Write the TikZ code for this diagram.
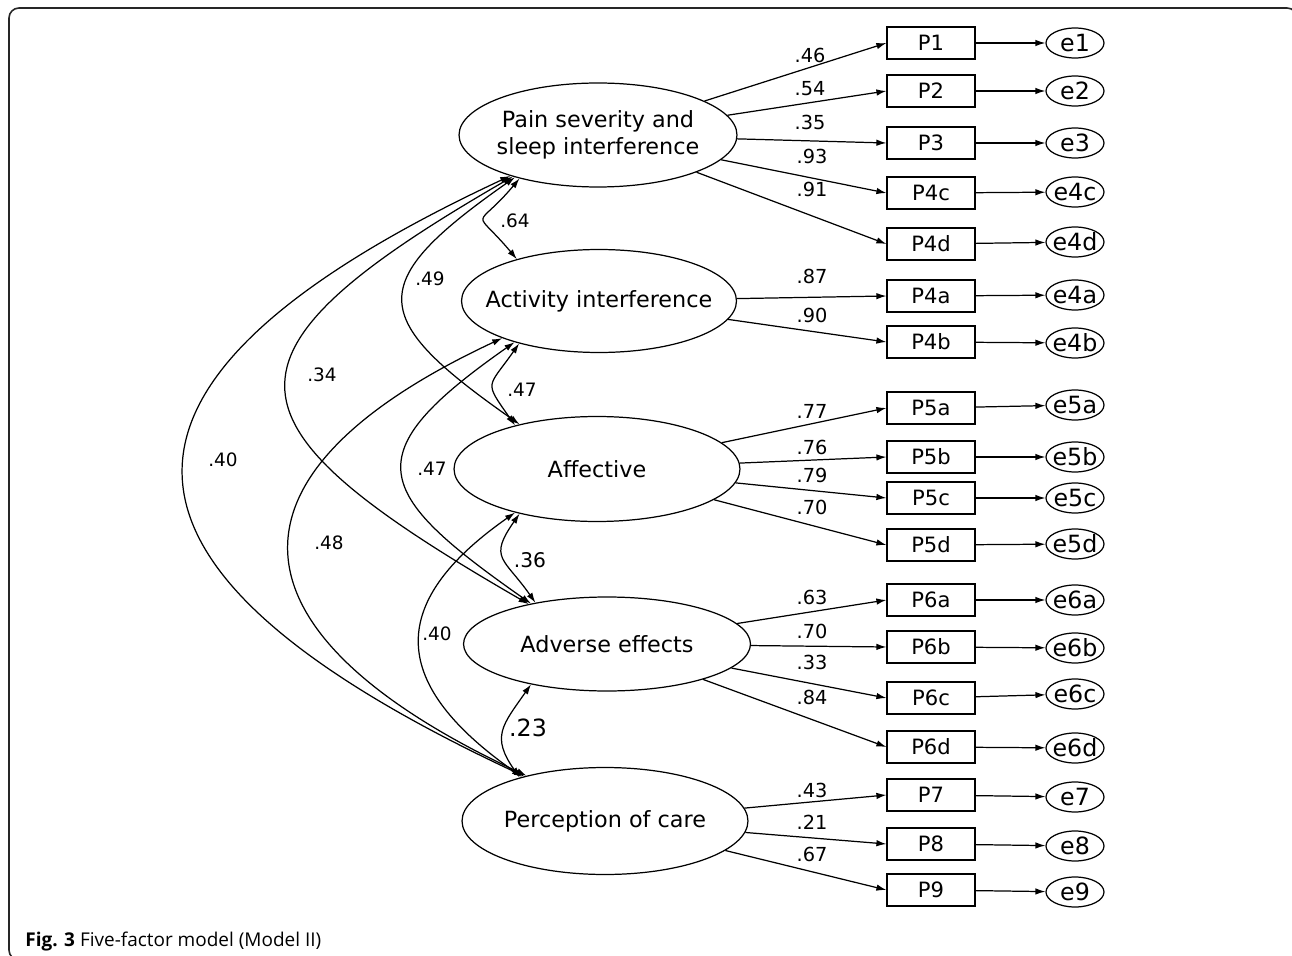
\documentclass[tikz,border=0pt]{standalone}
\usepackage{fontspec}
\setmainfont{DejaVu Sans}
\newfontfamily\capfont{Open Sans}
\usetikzlibrary{shapes,arrows.meta}

\tikzset{
	latent/.style={ellipse, draw, line width=0.7pt, inner sep=0pt, label={[font=\fontsize{12.7}{15.3}\selectfont, align=center]center:#1}},
	item/.style={rectangle, draw, line width=0.7pt, minimum width=1.76cm, minimum height=0.64cm, inner sep=0pt, font=\fontsize{12}{14}\selectfont},
	err/.style={ellipse, draw, line width=0.7pt, minimum width=1.16cm, minimum height=0.6cm, inner sep=0pt, label={[font=\fontsize{13.5}{16}\selectfont]center:#1}},
	load/.style={-{Latex[length=2mm,width=1.3mm]}, line width=0.7pt},
	cov/.style={{Latex[length=2mm,width=1.3mm]}-{Latex[length=2mm,width=1.3mm]}, line width=0.7pt},
	wt/.style={font=\fontsize{11}{13}\selectfont, inner sep=0pt},
	cr/.style={font=\fontsize{10.5}{12}\selectfont, inner sep=0pt},
	frame/.style={draw=black!85, line width=0.9pt, rounded corners=0.2cm}
}

\begin{document}
\begin{tikzpicture}[x=0.02cm, y=-0.02cm]
		\useasboundingbox (0,0) rectangle (1292,956);
		\draw[frame] (9,8) rectangle (1297,960);

		\node[latent={Pain severity and\\sleep interference}, minimum width=5.56cm, minimum height=2.08cm] (pain) at (598,135) {};
		\node[latent={Activity interference}, minimum width=5.5cm, minimum height=2.06cm] (act) at (599,301) {};
		\node[latent=Affective, minimum width=5.72cm, minimum height=2.1cm] (aff) at (597,469) {};
		\node[latent={Adverse effects}, minimum width=5.74cm, minimum height=1.88cm] (adv) at (607,644) {};
		\node[latent={Perception of care}, minimum width=5.72cm, minimum height=2.14cm] (perc) at (605,821) {};

		\node[item] (P1) at (931,43) {P1};
		\node[item] (P2) at (931,91) {P2};
		\node[item] (P3) at (931,143) {P3};
		\node[item] (P4c) at (931,193) {P4c};
		\node[item] (P4d) at (931,244) {P4d};
		\node[item] (P4a) at (931,296) {P4a};
		\node[item] (P4b) at (931,342) {P4b};
		\node[item] (P5a) at (931,408) {P5a};
		\node[item] (P5b) at (931,457) {P5b};
		\node[item] (P5c) at (931,498) {P5c};
		\node[item] (P5d) at (931,545) {P5d};
		\node[item] (P6a) at (931,600) {P6a};
		\node[item] (P6b) at (931,647) {P6b};
		\node[item] (P6c) at (931,698) {P6c};
		\node[item] (P6d) at (931,747) {P6d};
		\node[item] (P7) at (931,795) {P7};
		\node[item] (P8) at (931,844) {P8};
		\node[item] (P9) at (931,890) {P9};

		\node[err=e1] (e1) at (1075,43) {};
		\node[err=e2] (e2) at (1075,91) {};
		\node[err=e3] (e3) at (1075,143) {};
		\node[err=e4c] (e4c) at (1075,192) {};
		\node[err=e4d] (e4d) at (1075,242) {};
		\node[err=e4a] (e4a) at (1075,295) {};
		\node[err=e4b] (e4b) at (1075,343) {};
		\node[err=e5a] (e5a) at (1075,405) {};
		\node[err=e5b] (e5b) at (1075,457) {};
		\node[err=e5c] (e5c) at (1075,498) {};
		\node[err=e5d] (e5d) at (1075,544) {};
		\node[err=e6a] (e6a) at (1075,600) {};
		\node[err=e6b] (e6b) at (1075,648) {};
		\node[err=e6c] (e6c) at (1075,694) {};
		\node[err=e6d] (e6d) at (1075,748) {};
		\node[err=e7] (e7) at (1075,797) {};
		\node[err=e8] (e8) at (1075,846) {};
		\node[err=e9] (e9) at (1075,892) {};

		\draw[load] (P1) -- (e1);
		\draw[load] (P2) -- (e2);
		\draw[load] (P3) -- (e3);
		\draw[load] (P4c) -- (e4c);
		\draw[load] (P4d) -- (e4d);
		\draw[load] (P4a) -- (e4a);
		\draw[load] (P4b) -- (e4b);
		\draw[load] (P5a) -- (e5a);
		\draw[load] (P5b) -- (e5b);
		\draw[load] (P5c) -- (e5c);
		\draw[load] (P5d) -- (e5d);
		\draw[load] (P6a) -- (e6a);
		\draw[load] (P6b) -- (e6b);
		\draw[load] (P6c) -- (e6c);
		\draw[load] (P6d) -- (e6d);
		\draw[load] (P7) -- (e7);
		\draw[load] (P8) -- (e8);
		\draw[load] (P9) -- (e9);

		\draw[load] (pain) -- (P1.west);
		\draw[load] (pain) -- (P2.west);
		\draw[load] (pain) -- (P3.west);
		\draw[load] (pain) -- (P4c.west);
		\draw[load] (pain) -- (P4d.west);
		\draw[load] (act) -- (P4a.west);
		\draw[load] (act) -- (P4b.west);
		\draw[load] (aff) -- (P5a.west);
		\draw[load] (aff) -- (P5b.west);
		\draw[load] (aff) -- (P5c.west);
		\draw[load] (aff) -- (P5d.west);
		\draw[load] (adv) -- (P6a.west);
		\draw[load] (adv) -- (P6b.west);
		\draw[load] (adv) -- (P6c.west);
		\draw[load] (adv) -- (P6d.west);
		\draw[load] (perc) -- (P7.west);
		\draw[load] (perc) -- (P8.west);
		\draw[load] (perc) -- (P9.west);

		\node[wt] (w1) at (810,55) {.46};
		\node[wt] (w2) at (810,89) {.54};
		\node[wt] (w3) at (810,122) {.35};
		\node[wt] (w4c) at (812,156) {.93};
		\node[wt] (w4d) at (812,189) {.91};
		\node[wt] (w4a) at (812,276) {.87};
		\node[wt] (w4b) at (812,315) {.90};
		\node[wt] (w5a) at (812,411) {.77};
		\node[wt] (w5b) at (812,447) {.76};
		\node[wt] (w5c) at (812,475) {.79};
		\node[wt] (w5d) at (812,507) {.70};
		\node[wt] (w6a) at (812,597) {.63};
		\node[wt] (w6b) at (812,631) {.70};
		\node[wt] (w6c) at (812,662) {.33};
		\node[wt] (w6d) at (812,697) {.84};
		\node[wt] (w7) at (812,790) {.43};
		\node[wt] (w8) at (812,822) {.21};
		\node[wt] (w9) at (812,854) {.67};

		\draw[cov] (pain.209) .. controls +(230:1.4cm) and +(130:1.4cm) .. (act.153);
		\draw[cov] (pain.207) .. controls +(215:3.7cm) and +(145:3.7cm) .. (aff.150);
		\draw[cov] (pain.206) .. controls +(210:7.2cm) and +(150:7.2cm) .. (adv.153);
		\draw[cov] (pain.205) .. controls +(205:9.8cm) and +(155:9.8cm) .. (perc.151);
		\draw[cov] (act.208) .. controls +(235:1.1cm) and +(125:1.1cm) .. (aff.152);
		\draw[cov] (act.201) .. controls +(205:6.6cm) and +(155:6.6cm) .. (perc.150);
		\draw[cov] (act.206) .. controls +(215:3.9cm) and +(145:3.9cm) .. (adv.152);
		\draw[cov] (aff.210) .. controls +(235:1.1cm) and +(125:1.1cm) .. (adv.150);
		\draw[cov] (aff.208) .. controls +(215:3.2cm) and +(145:3.2cm) .. (perc.152);
		\draw[cov] (adv.208) .. controls +(235:1cm) and +(125:1cm) .. (perc.153);

		\node[cr] (c12) at (515,221) {.64};
		\node[cr] (c13) at (430,279) {.49};
		\node[cr] (c14) at (322,375) {.34};
		\node[cr] (c15) at (223,460) {.40};
		\node[cr] (c23) at (522,390) {.47};
		\node[cr] (c25) at (329,543) {.48};
		\node[cr] (c24) at (432,469) {.47};
		\node[cr, font=\fontsize{11.5}{13}\selectfont] (c34) at (530,560) {.36};
		\node[cr] (c35) at (437,634) {.40};
		\node[cr, font=\fontsize{13.5}{16}\selectfont] (c45) at (528,728) {.23};

		\node[anchor=base west, inner sep=0pt, font=\capfont\fontsize{10.8}{13}\selectfont] (cap) at (25,946) {\textbf{Fig. 3} Five-factor model (Model II)};
	\end{tikzpicture}
\end{document}
